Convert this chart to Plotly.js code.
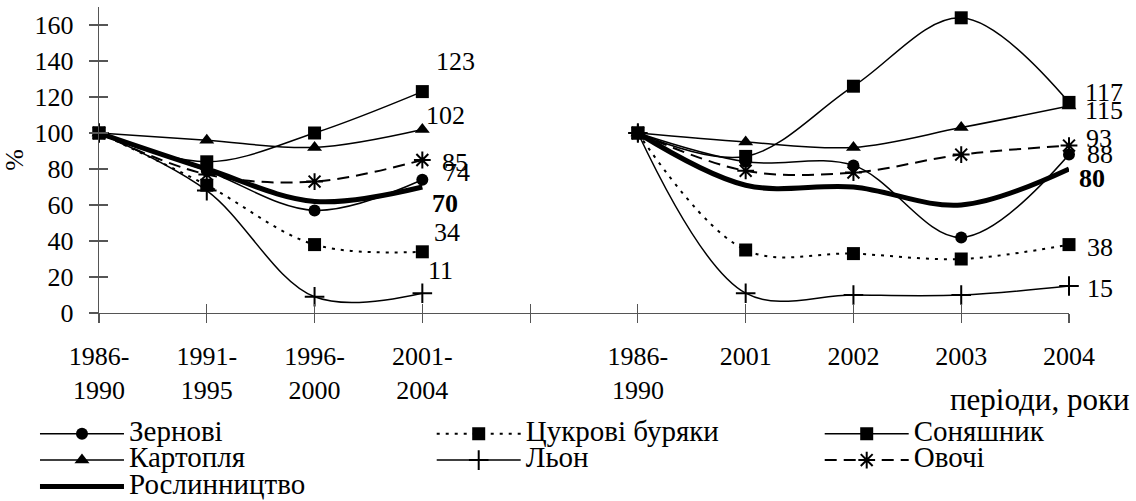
<!DOCTYPE html>
<html>
<head>
<meta charset="utf-8">
<script src="https://cdn.plot.ly/plotly-3.0.1.min.js"></script>
<style>html,body{margin:0;padding:0;background:#fff;}#chart{width:1136px;height:501px;}</style>
</head>
<body>
<div id="chart"></div>
<script>
// Category positions: 0-3 first group, 4 empty gap, 5-9 second group
var positions = [0,1,2,3,4,5,6,7,8,9];
var tickLabels = ['1986-<br>1990','1991-<br>1995','1996-<br>2000','2001-<br>2004','','1986-<br>1990','2001','2002','2003','2004'];

// Series values (%), null = gap between groups
var zernovi      = [100, 79, 57, 74, null, 100, 84, 82, 42, 88];
var tsukrovi     = [100, 71, 38, 34, null, 100, 35, 33, 30, 38];
var sonyashnyk   = [100, 84, 100, 123, null, 100, 87, 126, 164, 117];
var kartoplia    = [100, 96, 92, 102, null, 100, 95, 92, 103, 115];
var lon          = [100, 68, 9, 11, null, 100, 11, 10, 10, 15];
var ovochi       = [100, 77, 73, 85, null, 100, 79, 78, 88, 93];
var roslynnytstvo= [100, 80, 62, 70, null, 100, 71, 70, 60, 80];

var names = ['Зернові','Цукрові буряки','Соняшник','Картопля','Льон','Овочі','Рослинництво'];

var FONT = 'Liberation Serif';
function nm(s){ return '<span style="font-size:29px">' + s + '</span>'; }

function tr(y, name, dash, width, symbol, msize, open, leg){
  var m = {symbol: symbol || 'circle', size: msize, color: '#000'};
  if (open) m.line = {color:'#000', width: 2};
  return {
    x: positions, y: y, name: nm(name), type: 'scatter', legend: leg,
    mode: symbol ? 'lines+markers' : 'lines',
    line: {color:'#000', width: width, dash: dash, shape:'spline', smoothing: 1},
    marker: m, connectgaps: false, cliponaxis: false
  };
}

var traces = [
  tr(zernovi, names[0], 'solid', 1.5, 'circle', 12, false, 'legend'),
  tr(kartoplia, names[3], 'solid', 1.5, 'triangle-up', 13, false, 'legend'),
  tr(roslynnytstvo, names[6], 'solid', 5, null, 0, false, 'legend'),
  tr(tsukrovi, names[1], '3px,6px', 2, 'square', 13, false, 'legend2'),
  tr(lon, names[4], 'solid', 1.5, 'cross-thin-open', 14, true, 'legend2'),
  tr(sonyashnyk, names[2], 'solid', 1.5, 'square', 13, false, 'legend3'),
  tr(ovochi, names[5], '12px,7px', 2, 'asterisk-open', 14, true, 'legend3')
];
traces.push({x:[null], y:[null], xaxis:'x2', yaxis:'y2', type:'scatter', mode:'markers', showlegend:false, hoverinfo:'skip'});

// end-of-series labels
var endSeries = [
  {s: sonyashnyk, i:3, dx:33, dy:30, b:false},
  {s: kartoplia, i:3, dx:23, dy:14, b:false},
  {s: ovochi, i:3, dx:33, dy:-2, b:false},
  {s: zernovi, i:3, dx:35, dy:7, b:false},
  {s: roslynnytstvo, i:3, dx:23, dy:-16, b:true},
  {s: tsukrovi, i:3, dx:25, dy:19, b:false},
  {s: lon, i:3, dx:18, dy:23, b:false},
  {s: sonyashnyk, i:9, dx:35, dy:10, b:false},
  {s: kartoplia, i:9, dx:35, dy:-4, b:false},
  {s: ovochi, i:9, dx:30, dy:7, b:false},
  {s: zernovi, i:9, dx:31, dy:0, b:false},
  {s: roslynnytstvo, i:9, dx:23, dy:-9, b:true},
  {s: tsukrovi, i:9, dx:31, dy:-3, b:false},
  {s: lon, i:9, dx:31, dy:-2, b:false}
];
var annotations = endSeries.map(function(e){
  var v = e.s[e.i];
  return {x: positions[e.i], y: v, xref:'x', yref:'y', text: e.b ? '<b>'+v+'</b>' : String(v),
    showarrow:false, xanchor:'center', yanchor:'middle', xshift:e.dx, yshift:e.dy,
    font:{family:FONT, size:26, color:'#000'}};
});
annotations.push({xref:'paper', yref:'paper', x:1, y:-0.284, xanchor:'right', yanchor:'middle', xshift:63,
  text:'періоди, роки', showarrow:false, font:{family:FONT, size:31, color:'#000'}});

var axisColor = '#555';
function legendAt(xp){
  return {orientation:'v', x:xp, xanchor:'left', y:-0.335, yanchor:'top',
    itemwidth:84, font:{family:FONT, size:18, color:'#000'}, bgcolor:'rgba(0,0,0,0)', traceorder:'normal'};
}
var layout = {
  width:1136, height:501,
  margin:{l:99, r:67, t:7, b:188, autoexpand:false},
  paper_bgcolor:'#fff', plot_bgcolor:'#fff',
  font:{family:FONT, size:26, color:'#000'},
  showlegend:true,
  xaxis:{range:[0,9], tickvals:positions, ticktext:tickLabels, ticks:'outside', ticklen:9, tickwidth:1.2,
    tickcolor:axisColor, showline:true, linecolor:axisColor, linewidth:1.2, showgrid:false, zeroline:false,
    ticklabelstandoff:11, tickfont:{family:FONT, size:26, color:'#000'}, automargin:false},
  yaxis:{range:[0,170], tickvals:[0,20,40,60,80,100,120,140,160], ticks:'outside', ticklen:9, tickwidth:1.2,
    tickcolor:axisColor, showline:true, linecolor:axisColor, linewidth:1.2, showgrid:false, zeroline:false,
    ticklabelstandoff:10, tickfont:{family:FONT, size:26, color:'#000'}, automargin:false,
    title:{text:'%', font:{family:FONT, size:26, color:'#000'}, standoff:8}},
  xaxis2:{overlaying:'x', anchor:'y2', side:'bottom', range:[0,9], tickvals:positions, ticks:'inside', ticklen:9, tickwidth:1.2,
    tickcolor:axisColor, showticklabels:false, showline:false, showgrid:false, zeroline:false},
  yaxis2:{overlaying:'y', anchor:'x2', side:'left', range:[0,170], tickvals:[0,20,40,60,80,100,120,140,160], ticks:'inside', ticklen:9, tickwidth:1.2,
    tickcolor:axisColor, showticklabels:false, showline:false, showgrid:false, zeroline:false},
  legend: legendAt(-0.066),
  legend2: legendAt(0.343),
  legend3: legendAt(0.743),
  annotations: annotations
};

Plotly.newPlot('chart', traces, layout, {displayModeBar:false, staticPlot:true});
</script>
</body>
</html>
